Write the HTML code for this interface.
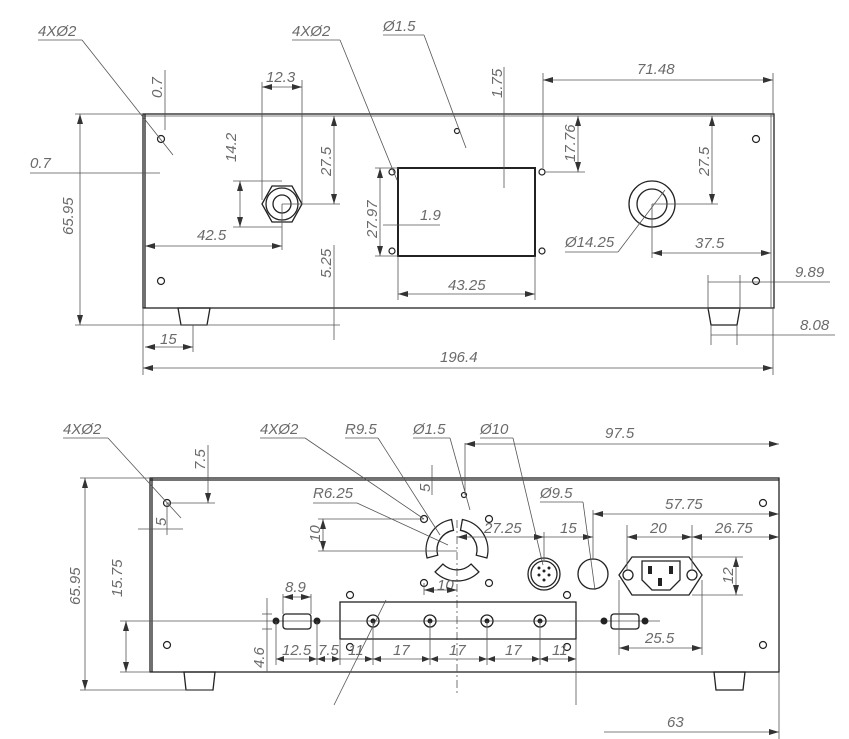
<!DOCTYPE html>
<html><head><meta charset="utf-8"><style>
html,body{margin:0;padding:0;background:#fff}
svg{display:block}
.t{font-family:"Liberation Sans",sans-serif;font-style:italic;font-size:15px;fill:#6a6a6a}
.d{stroke:#555;stroke-width:0.8;fill:none}
.o{stroke:#222;stroke-width:1.3;fill:none}
.h{stroke:#222;stroke-width:1.2;fill:#fff}
</style></head><body>
<svg width="849" height="739" viewBox="0 0 849 739" xmlns="http://www.w3.org/2000/svg">
<defs><marker id="a" viewBox="0 0 10 6" refX="10" refY="3" markerWidth="10" markerHeight="6" orient="auto-start-reverse" markerUnits="userSpaceOnUse"><path d="M0,0L10,3L0,6z" fill="#333"/></marker></defs>

<!-- ===== TOP VIEW ===== -->
<rect x="143" y="114" width="631" height="194" class="o"/>
<line x1="143" y1="116" x2="774" y2="116" class="d"/>
<line x1="145" y1="114" x2="145" y2="308" class="o"/>
<line x1="771" y1="114" x2="771" y2="308" class="d"/>
<path d="M178,308 L210,308 L207,325 L181,325Z" class="o"/>
<path d="M708,308 L740,308 L737,325 L711,325Z" class="o"/>
<circle cx="161" cy="139" r="3.5" class="h"/><circle cx="161" cy="281" r="3.5" class="h"/>
<circle cx="756" cy="139" r="3.5" class="h"/><circle cx="756" cy="281" r="3.5" class="h"/>
<circle cx="457" cy="131" r="2.5" class="h"/>
<polygon points="262,204 272,186 292,186 302,204 292,222 272,222" class="o"/>
<circle cx="282" cy="204" r="16" class="o"/><circle cx="282" cy="204" r="9" class="o"/>
<rect x="398" y="168" width="137" height="88" class="o" style="stroke-width:2"/>
<circle cx="392" cy="172" r="3" class="h"/><circle cx="392" cy="251" r="3" class="h"/>
<circle cx="542" cy="172" r="3" class="h"/><circle cx="542" cy="251" r="3" class="h"/>
<circle cx="652" cy="204" r="23" class="o"/><circle cx="652" cy="204" r="15" class="o"/>

<line x1="75" y1="114" x2="143" y2="114" class="d"/><line x1="75" y1="325" x2="340" y2="325" class="d"/>
<line x1="80" y1="114" x2="80" y2="325" class="d" marker-start="url(#a)" marker-end="url(#a)"/>
<text class="t" transform="translate(73,235) rotate(-90)">65.95</text>
<line x1="143" y1="308" x2="143" y2="375" class="d"/><line x1="773" y1="308" x2="773" y2="375" class="d"/>
<line x1="143" y1="368" x2="773" y2="368" class="d" marker-start="url(#a)" marker-end="url(#a)"/>
<text class="t" x="440" y="362">196.4</text>
<line x1="193" y1="325" x2="193" y2="352" class="d"/>
<line x1="145" y1="347" x2="193" y2="347" class="d" marker-start="url(#a)" marker-end="url(#a)"/>
<text class="t" x="160" y="344">15</text>
<line x1="30" y1="173" x2="160" y2="173" class="d"/>
<text class="t" x="30" y="168">0.7</text>
<line x1="38" y1="40" x2="82" y2="40" class="d"/><line x1="82" y1="40" x2="173" y2="155" class="d"/>
<text class="t" x="38" y="36">4XØ2</text>
<line x1="165" y1="70" x2="165" y2="130" class="d"/>
<text class="t" transform="translate(162,98) rotate(-90)">0.7</text>
<line x1="262" y1="82" x2="262" y2="200" class="d"/><line x1="302" y1="80" x2="302" y2="204" class="d"/>
<line x1="262" y1="87" x2="302" y2="87" class="d" marker-start="url(#a)" marker-end="url(#a)"/>
<text class="t" x="266" y="82">12.3</text>
<line x1="233" y1="181" x2="282" y2="181" class="d"/><line x1="233" y1="227" x2="282" y2="227" class="d"/>
<line x1="240" y1="181" x2="240" y2="227" class="d" marker-start="url(#a)" marker-end="url(#a)"/>
<text class="t" transform="translate(236,162) rotate(-90)">14.2</text>
<line x1="282" y1="204" x2="340" y2="204" class="d"/>
<line x1="334" y1="116" x2="334" y2="204" class="d" marker-start="url(#a)" marker-end="url(#a)"/>
<text class="t" transform="translate(331,176) rotate(-90)">27.5</text>
<line x1="282" y1="204" x2="282" y2="250" class="d"/>
<line x1="145" y1="246" x2="282" y2="246" class="d" marker-start="url(#a)" marker-end="url(#a)"/>
<text class="t" x="197" y="240">42.5</text>
<line x1="334" y1="245" x2="334" y2="340" class="d"/>
<text class="t" transform="translate(331,278) rotate(-90)">5.25</text>
<line x1="292" y1="40" x2="340" y2="40" class="d"/><line x1="340" y1="40" x2="397" y2="180" class="d"/>
<text class="t" x="292" y="36">4XØ2</text>
<line x1="375" y1="168" x2="398" y2="168" class="d"/><line x1="375" y1="256" x2="398" y2="256" class="d"/>
<line x1="380" y1="168" x2="380" y2="256" class="d" marker-start="url(#a)" marker-end="url(#a)"/>
<text class="t" transform="translate(377,238) rotate(-90)">27.97</text>
<line x1="383" y1="225" x2="440" y2="225" class="d"/>
<text class="t" x="420" y="220">1.9</text>
<line x1="398" y1="256" x2="398" y2="300" class="d"/><line x1="535" y1="256" x2="535" y2="300" class="d"/>
<line x1="398" y1="294" x2="535" y2="294" class="d" marker-start="url(#a)" marker-end="url(#a)"/>
<text class="t" x="448" y="290">43.25</text>
<line x1="383" y1="35" x2="424" y2="35" class="d"/><line x1="424" y1="35" x2="466" y2="148" class="d"/>
<text class="t" x="383" y="31">Ø1.5</text>
<line x1="504" y1="67" x2="504" y2="188" class="d"/>
<text class="t" transform="translate(502,98) rotate(-90)">1.75</text>
<line x1="543" y1="73" x2="543" y2="168" class="d"/><line x1="773" y1="73" x2="773" y2="114" class="d"/>
<line x1="543" y1="80" x2="773" y2="80" class="d" marker-start="url(#a)" marker-end="url(#a)"/>
<text class="t" x="637" y="74">71.48</text>
<line x1="545" y1="172" x2="585" y2="172" class="d"/>
<line x1="578" y1="116" x2="578" y2="172" class="d" marker-start="url(#a)" marker-end="url(#a)"/>
<text class="t" transform="translate(575,162) rotate(-90)">17.76</text>
<line x1="652" y1="204" x2="718" y2="204" class="d"/>
<line x1="712" y1="116" x2="712" y2="204" class="d" marker-start="url(#a)" marker-end="url(#a)"/>
<text class="t" transform="translate(709,176) rotate(-90)">27.5</text>
<line x1="652" y1="204" x2="652" y2="258" class="d"/>
<line x1="652" y1="253" x2="771" y2="253" class="d" marker-start="url(#a)" marker-end="url(#a)"/>
<text class="t" x="695" y="248">37.5</text>
<line x1="565" y1="252" x2="618" y2="252" class="d"/><line x1="618" y1="252" x2="665" y2="190" class="d"/>
<text class="t" x="565" y="247">Ø14.25</text>
<line x1="708" y1="275" x2="708" y2="310" class="d"/><line x1="740" y1="275" x2="740" y2="310" class="d"/>
<line x1="708" y1="282" x2="740" y2="282" class="d"/>
<line x1="740" y1="282" x2="830" y2="282" class="d"/>
<text class="t" x="795" y="277">9.89</text>
<line x1="711" y1="325" x2="711" y2="345" class="d"/><line x1="737" y1="325" x2="737" y2="345" class="d"/>
<line x1="711" y1="335" x2="835" y2="335" class="d"/>
<text class="t" x="800" y="330">8.08</text>

<!-- ===== BOTTOM VIEW ===== -->
<rect x="150" y="478" width="629" height="194" class="o"/>
<line x1="150" y1="480" x2="779" y2="480" class="o"/>
<line x1="152" y1="478" x2="152" y2="672" class="o"/>
<path d="M184,672 L215,672 L213,690 L186,690Z" class="o"/>
<path d="M714,672 L745,672 L743,690 L716,690Z" class="o"/>
<circle cx="167" cy="503" r="3.5" class="h"/><circle cx="167" cy="645" r="3.5" class="h"/>
<circle cx="763" cy="503" r="3.5" class="h"/><circle cx="763" cy="645" r="3.5" class="h"/>
<circle cx="464" cy="495" r="2.5" class="h"/>
<circle cx="424" cy="519" r="3.5" class="h"/><circle cx="489" cy="519" r="3.5" class="h"/>
<circle cx="424" cy="583" r="3.5" class="h"/><circle cx="489" cy="583" r="3.5" class="h"/>
<circle cx="350" cy="595" r="3.5" class="h"/><circle cx="567" cy="595" r="3.5" class="h"/>
<circle cx="350" cy="647" r="3.5" class="h"/><circle cx="567" cy="647" r="3.5" class="h"/>
<!-- fan -->
<path d="M451.6,519.5 A31,31 0 0 0 427.1,558 L437.7,555.2 A20,20 0 0 1 453.5,530.3 Z" class="o"/>
<path d="M462.4,519.5 A31,31 0 0 1 486.9,558 L476.3,555.2 A20,20 0 0 0 460.5,530.3 Z" class="o"/>
<path d="M435.1,571.9 A31,31 0 0 0 478.9,571.9 L471.1,564.1 A20,20 0 0 1 442.9,564.1 Z" class="o"/>
<line x1="457" y1="520" x2="457" y2="695" class="d" stroke-dasharray="8,3,2,3"/>
<!-- connector -->
<circle cx="544" cy="574" r="16" class="o"/><circle cx="544" cy="574" r="13" class="o"/>
<g fill="#222"><circle cx="539" cy="568" r="1.5"/><circle cx="549" cy="568" r="1.5"/><circle cx="539" cy="575" r="1.5"/><circle cx="549" cy="575" r="1.5"/><circle cx="544" cy="580" r="1.5"/><circle cx="544" cy="571" r="1.5"/></g>
<circle cx="593" cy="574" r="15" class="o"/>
<!-- IEC -->
<path d="M632,557 L689,557 L702,575 L689,595 L632,595 L619,575 Z" class="o"/>
<circle cx="628" cy="575" r="5" class="o"/><circle cx="692" cy="575" r="5" class="o"/>
<path d="M642,561 L680,561 L680,580 L670,590 L652,590 L642,580 Z" class="o"/>
<rect x="648" y="566" width="4" height="8" fill="#222"/><rect x="669" y="566" width="4" height="8" fill="#222"/><rect x="658" y="578" width="4" height="8" fill="#222"/>
<!-- strip -->
<rect x="340" y="602" width="236" height="37" class="o"/>
<line x1="120" y1="621" x2="660" y2="621" class="d"/>
<g class="o"><circle cx="373" cy="621" r="6"/><circle cx="430" cy="621" r="6"/><circle cx="487" cy="621" r="6"/><circle cx="540" cy="621" r="6"/></g>
<g fill="#222"><circle cx="373" cy="621" r="2.5"/><circle cx="430" cy="621" r="2.5"/><circle cx="487" cy="621" r="2.5"/><circle cx="540" cy="621" r="2.5"/></g>
<rect x="283" y="614" width="28" height="15" rx="3" class="o"/>
<circle cx="276" cy="621" r="3.5" fill="#222"/><circle cx="317" cy="621" r="3.5" fill="#222"/>
<rect x="611" y="614" width="28" height="15" rx="3" class="o"/>
<circle cx="604" cy="621" r="3.5" fill="#222"/><circle cx="645" cy="621" r="3.5" fill="#222"/>

<line x1="80" y1="478" x2="150" y2="478" class="d"/><line x1="80" y1="690" x2="212" y2="690" class="d"/>
<line x1="85" y1="478" x2="85" y2="690" class="d" marker-start="url(#a)" marker-end="url(#a)"/>
<text class="t" transform="translate(80,605) rotate(-90)">65.95</text>
<line x1="120" y1="672" x2="150" y2="672" class="d"/>
<line x1="126" y1="621" x2="126" y2="672" class="d" marker-start="url(#a)" marker-end="url(#a)"/>
<text class="t" transform="translate(122,597) rotate(-90)">15.75</text>
<line x1="63" y1="438" x2="108" y2="438" class="d"/><line x1="108" y1="438" x2="181" y2="518" class="d"/>
<text class="t" x="63" y="434">4XØ2</text>
<line x1="167" y1="503" x2="215" y2="503" class="d"/>
<line x1="208" y1="445" x2="208" y2="503" class="d" marker-end="url(#a)"/>
<text class="t" transform="translate(205,470) rotate(-90)">7.5</text>
<line x1="167" y1="503" x2="167" y2="535" class="d"/>
<line x1="138" y1="529" x2="183" y2="529" class="d"/>
<text class="t" transform="translate(166,526) rotate(-90)">5</text>
<line x1="260" y1="438" x2="305" y2="438" class="d"/><line x1="305" y1="438" x2="424" y2="519" class="d"/>
<text class="t" x="260" y="434">4XØ2</text>
<line x1="345" y1="438" x2="378" y2="438" class="d"/><line x1="378" y1="438" x2="440" y2="535" class="d"/>
<text class="t" x="345" y="434">R9.5</text>
<line x1="313" y1="503" x2="357" y2="503" class="d"/><line x1="357" y1="503" x2="448" y2="545" class="d"/>
<text class="t" x="313" y="498">R6.25</text>
<line x1="318" y1="519" x2="424" y2="519" class="d"/><line x1="318" y1="551" x2="457" y2="551" class="d"/>
<line x1="323" y1="519" x2="323" y2="551" class="d" marker-start="url(#a)" marker-end="url(#a)"/>
<text class="t" transform="translate(320,542) rotate(-90)">10</text>
<line x1="432" y1="465" x2="432" y2="495" class="d"/>
<text class="t" transform="translate(430,492) rotate(-90)">5</text>
<line x1="413" y1="438" x2="450" y2="438" class="d"/><line x1="450" y1="438" x2="470" y2="510" class="d"/>
<text class="t" x="413" y="434">Ø1.5</text>
<line x1="480" y1="438" x2="513" y2="438" class="d"/><line x1="513" y1="438" x2="543" y2="565" class="d"/>
<text class="t" x="480" y="434">Ø10</text>
<line x1="465" y1="443" x2="465" y2="495" class="d"/>
<line x1="465" y1="444" x2="779" y2="444" class="d" marker-start="url(#a)" marker-end="url(#a)"/>
<text class="t" x="605" y="438">97.5</text>
<line x1="457" y1="537" x2="544" y2="537" class="d" marker-start="url(#a)" marker-end="url(#a)"/>
<text class="t" x="484" y="533">27.25</text>
<line x1="544" y1="532" x2="544" y2="560" class="d"/>
<line x1="544" y1="537" x2="593" y2="537" class="d" marker-end="url(#a)"/>
<text class="t" x="560" y="533">15</text>
<line x1="540" y1="502" x2="583" y2="502" class="d"/><line x1="583" y1="502" x2="595" y2="590" class="d"/>
<text class="t" x="540" y="498">Ø9.5</text>
<line x1="593" y1="510" x2="593" y2="560" class="d"/>
<line x1="593" y1="514" x2="779" y2="514" class="d" marker-start="url(#a)" marker-end="url(#a)"/>
<text class="t" x="665" y="509">57.75</text>
<line x1="627" y1="525" x2="627" y2="570" class="d"/><line x1="692" y1="525" x2="692" y2="570" class="d"/>
<line x1="627" y1="537" x2="692" y2="537" class="d" marker-start="url(#a)" marker-end="url(#a)"/>
<text class="t" x="650" y="533">20</text>
<line x1="692" y1="537" x2="779" y2="537" class="d" marker-start="url(#a)" marker-end="url(#a)"/>
<text class="t" x="715" y="533">26.75</text>
<line x1="692" y1="557" x2="743" y2="557" class="d"/><line x1="692" y1="595" x2="743" y2="595" class="d"/>
<line x1="736" y1="557" x2="736" y2="595" class="d" marker-start="url(#a)" marker-end="url(#a)"/>
<text class="t" transform="translate(733,584) rotate(-90)">12</text>
<line x1="619" y1="580" x2="619" y2="655" class="d"/><line x1="702" y1="580" x2="702" y2="655" class="d"/>
<line x1="619" y1="648" x2="702" y2="648" class="d" marker-start="url(#a)" marker-end="url(#a)"/>
<text class="t" x="645" y="643">25.5</text>
<line x1="283" y1="594" x2="283" y2="614" class="d"/><line x1="311" y1="594" x2="311" y2="614" class="d"/>
<line x1="283" y1="597" x2="311" y2="597" class="d" marker-start="url(#a)" marker-end="url(#a)"/>
<text class="t" x="285" y="592">8.9</text>
<line x1="267" y1="598" x2="267" y2="672" class="d"/>
<line x1="262" y1="614" x2="272" y2="614" class="d"/><line x1="262" y1="629" x2="272" y2="629" class="d"/>
<text class="t" transform="translate(264,668) rotate(-90)">4.6</text>
<line x1="276" y1="621" x2="276" y2="665" class="d"/><line x1="317" y1="621" x2="317" y2="665" class="d"/>
<line x1="340" y1="639" x2="340" y2="665" class="d"/><line x1="576" y1="639" x2="576" y2="705" class="d"/>
<line x1="373" y1="621" x2="373" y2="665" class="d"/><line x1="430" y1="621" x2="430" y2="665" class="d"/>
<line x1="487" y1="621" x2="487" y2="665" class="d"/><line x1="540" y1="621" x2="540" y2="665" class="d"/>
<line x1="276" y1="659" x2="576" y2="659" class="d"/>
<g fill="#333"><path d="M276,659l8,-3v6z"/><path d="M317,659l-8,-3v6z"/><path d="M317,659l8,-3v6z"/><path d="M340,659l-8,-3v6z"/><path d="M373,659l-8,-3v6z"/><path d="M373,659l8,-3v6z"/><path d="M430,659l-8,-3v6z"/><path d="M430,659l8,-3v6z"/><path d="M487,659l-8,-3v6z"/><path d="M487,659l8,-3v6z"/><path d="M540,659l-8,-3v6z"/><path d="M540,659l8,-3v6z"/><path d="M576,659l-8,-3v6z"/></g>
<text class="t" x="282" y="655">12.5</text>
<text class="t" x="318" y="655">7.5</text>
<text class="t" x="348" y="655">11</text>
<text class="t" x="393" y="655">17</text>
<text class="t" x="449" y="655">17</text>
<text class="t" x="505" y="655">17</text>
<text class="t" x="552" y="655">11</text>
<text class="t" x="437" y="590">10</text>
<line x1="424" y1="590" x2="457" y2="590" class="d" marker-start="url(#a)" marker-end="url(#a)"/>
<line x1="424" y1="583" x2="424" y2="595" class="d"/>
<line x1="334" y1="705" x2="386" y2="600" class="d"/>
<line x1="604" y1="732" x2="779" y2="732" class="d" marker-end="url(#a)"/>
<line x1="779" y1="672" x2="779" y2="739" class="d"/>
<text class="t" x="667" y="727">63</text>
</svg>
</body></html>
